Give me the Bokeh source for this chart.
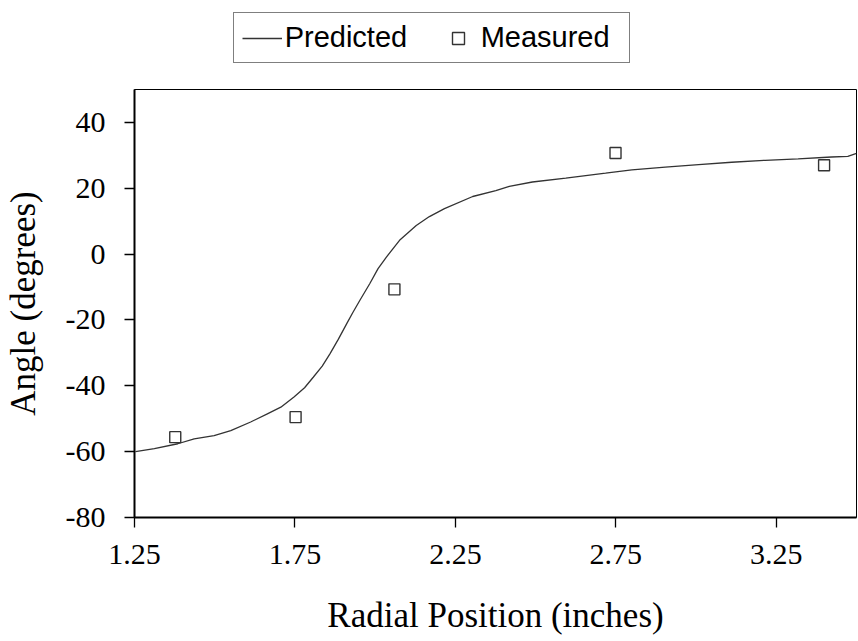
from bokeh.plotting import figure
from bokeh.layouts import column
from bokeh.models import Range1d, FixedTicker, Legend, LegendItem
from bokeh.embed import file_html
from bokeh.resources import INLINE

# Predicted curve
pred_x = [1.253, 1.312, 1.385, 1.436, 1.498, 1.550, 1.612, 1.664, 1.706, 1.747,
          1.780, 1.807, 1.835, 1.859, 1.885, 1.911, 1.930, 1.952, 1.983, 2.009,
          2.035, 2.076, 2.128, 2.169, 2.216, 2.304, 2.376, 2.418, 2.490, 2.594,
          2.718, 2.800, 2.904, 3.008, 3.111, 3.215, 3.318, 3.422, 3.473, 3.500]
pred_y = [-60.0, -59.1, -57.6, -56.1, -55.1, -53.6, -51.0, -48.5, -46.5, -43.4,
          -40.6, -37.4, -34.0, -30.3, -25.9, -21.2, -17.8, -14.1, -9.0, -4.4,
          -0.9, 4.2, 8.7, 11.4, 13.8, 17.5, 19.3, 20.6, 21.9, 23.1,
          24.6, 25.6, 26.4, 27.2, 27.9, 28.5, 28.9, 29.5, 29.7, 30.6]

# Measured points
meas_x = [1.377, 1.752, 2.060, 2.749, 3.399]
meas_y = [-55.6, -49.5, -10.7, 30.7, 27.0]

x_ticks = [1.25, 1.75, 2.25, 2.75, 3.25]
y_ticks = [-80, -60, -40, -20, 0, 20, 40]

LINE_COLOR = "#333333"

# ---- main chart ----
p = figure(frame_width=722, frame_height=428, output_backend="svg",
           toolbar_location=None,
           x_range=Range1d(1.25, 3.5), y_range=Range1d(-80, 50),
           min_border_left=126, min_border_right=2, min_border_top=0,
           min_border_bottom=118)
p.grid.visible = False
p.outline_line_color = "black"
p.outline_line_width = 1
p.background_fill_color = "white"
p.border_fill_color = "white"

p.line(pred_x, pred_y, line_color=LINE_COLOR, line_width=1.3)
p.scatter(meas_x, meas_y, marker="square", size=11,
          line_color=LINE_COLOR, fill_color="white", line_width=1.4)

for ax in (p.xaxis[0], p.yaxis[0]):
    ax.axis_line_color = "black"
    ax.axis_line_width = 2
    ax.major_tick_line_color = "black"
    ax.major_tick_line_width = 1.3
    ax.major_tick_in = 0
    ax.major_tick_out = 10
    ax.minor_tick_line_color = None
    ax.major_label_text_font = "Liberation Serif"
    ax.major_label_text_font_size = "30px"
    ax.major_label_text_color = "black"
    ax.axis_label_text_font = "Liberation Serif"
    ax.axis_label_text_font_size = "35px"
    ax.axis_label_text_font_style = "normal"
    ax.axis_label_text_color = "black"

p.xaxis.ticker = FixedTicker(ticks=x_ticks)
p.yaxis.ticker = FixedTicker(ticks=y_ticks)
p.xaxis.major_label_overrides = {t: f"{t:.2f}" for t in x_ticks}
p.yaxis.major_label_overrides = {t: str(t) for t in y_ticks}
p.xaxis.axis_label = "Radial Position (inches)"
p.yaxis.axis_label = "Angle (degrees)"
p.xaxis.major_label_standoff = 17
p.yaxis.major_label_standoff = 19
p.xaxis.axis_label_standoff = 29
p.yaxis.axis_label_standoff = 20

# ---- legend strip above the chart ----
lg = figure(frame_width=722, frame_height=89, output_backend="svg",
            toolbar_location=None,
            x_range=Range1d(0, 1), y_range=Range1d(0, 1),
            min_border_left=126, min_border_right=2, min_border_top=0,
            min_border_bottom=0)
lg.axis.visible = False
lg.grid.visible = False
lg.outline_line_color = None
lg.background_fill_color = "white"
lg.border_fill_color = "white"
# same series, outside this strip's ranges: only their legend glyphs show
l_line = lg.line(pred_x, pred_y, line_color=LINE_COLOR, line_width=1.3)
l_pts = lg.scatter(meas_x, meas_y, marker="square", size=10,
                   line_color=LINE_COLOR, fill_color="white", line_width=1.4)

legend = Legend(items=[LegendItem(label="Predicted", renderers=[l_line]),
                       LegendItem(label="Measured", renderers=[l_pts])],
                orientation="horizontal", location=(190, 26))
legend.label_text_font = "Liberation Sans"
legend.label_text_font_size = "29px"
legend.label_text_color = "black"
legend.glyph_width = 40
legend.glyph_height = 30
legend.label_width = 140
legend.label_standoff = 3
legend.spacing = 13
legend.padding = 8
legend.margin = 0
legend.border_line_color = "black"
legend.border_line_width = 1.3
legend.background_fill_color = "white"
lg.add_layout(legend, "center")

layout = column(lg, p, spacing=0)
open("out.html", "w").write(file_html(layout, INLINE))
